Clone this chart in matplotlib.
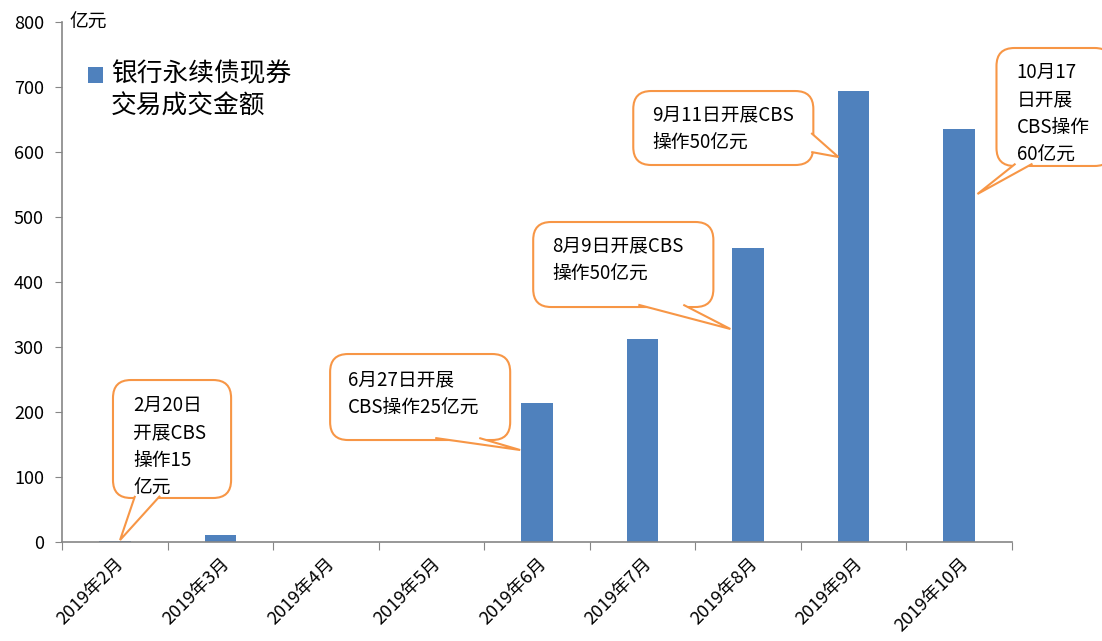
import numpy as np
import matplotlib.pyplot as plt
from matplotlib.patches import Rectangle, FancyBboxPatch, Polygon
from matplotlib.legend_handler import HandlerPatch, update_from_first_child
from matplotlib.container import BarContainer

plt.rcParams['font.family'] = ['Noto Sans CJK SC', 'DejaVu Sans']

# ---------------------------------------------------------------------------
# Данные
# ---------------------------------------------------------------------------
months = ["2019年2月", "2019年3月", "2019年4月", "2019年5月", "2019年6月",
          "2019年7月", "2019年8月", "2019年9月", "2019年10月"]
volume = [2, 11, 0, 0, 214, 312, 452, 694, 635]
series_name = "银行永续债现券\n交易成交金额"

# выноски: текст, левый край текста и центр по y, рамка (x0, y0, x1, y1),
# основание "хвоста" (две точки) и его острие
notes = ["2月20日\n开展CBS\n操作15\n亿元",
         "6月27日开展\nCBS操作25亿元",
         "8月9日开展CBS\n操作50亿元",
         "9月11日开展CBS\n操作50亿元",
         "10月17\n日开展\nCBS操作\n60亿元"]
note_text_pos = [(0.173, 146), (2.211, 228.5), (4.145, 434.6), (5.092, 636.2), (8.543, 658.5)]
note_box = [(-0.017, 67.7, 1.102, 249.2),
            (2.040, 156.9, 3.746, 289.2),
            (3.964, 361.5, 5.671, 492.3),
            (4.912, 580.0, 6.618, 693.8),
            (8.353, 578.5, 9.453, 760.0)]
note_tail = [[(0.192, 71), (0.05, 3), (0.429, 71)],
             [(3.036, 160), (3.841, 141.5), (3.453, 160)],
             [(4.960, 365), (5.832, 327.7), (5.386, 365)],
             [(6.598, 629.2), (6.855, 592.3), (6.598, 600.0)],
             [(8.533, 582), (8.173, 535.4), (8.694, 582)]]

BLUE = "#4F81BD"
ORANGE = "#F79646"
GREY = "#868686"

fig = plt.figure(figsize=(11.02, 6.41), dpi=100)
ax = fig.add_axes([62 / 1102, 1 - 542 / 641, 950 / 1102, 520 / 641])

x = np.arange(len(months))
ax.bar(x, volume, width=0.3, color=BLUE, label=series_name, zorder=2)

ax.set_xlim(-0.5, len(months) - 0.5)
ax.set_ylim(0, 800)
ax.set_yticks(np.arange(0, 801, 100))
ax.tick_params(axis='y', labelsize=13, length=5, color=GREY, direction='out', pad=8)

# деления на границах категорий, подписи по центрам
ax.set_xticks(np.arange(-0.5, len(months), 1.0))
ax.set_xticklabels([])
ax.set_xticks(x, minor=True)
ax.set_xticklabels(months, minor=True, rotation=45, ha='right', va='top',
                   rotation_mode='anchor', fontsize=13)
ax.tick_params(axis='x', which='major', length=6, color=GREY)
ax.tick_params(axis='x', which='minor', length=0, pad=9)

for s in ['top', 'right']:
    ax.spines[s].set_visible(False)
for s in ['left', 'bottom']:
    ax.spines[s].set_color(GREY)
    ax.spines[s].set_linewidth(1.2)

ax.text(0.008, 1.0, "亿元", transform=ax.transAxes, ha='left', va='center', fontsize=13.5)


def shifted_square(legend, orig_handle, xdescent, ydescent, width, height, fontsize):
    # квадрат маркера на уровне первой строки подписи
    return Rectangle((-xdescent, -ydescent + 0.65 * fontsize), width, height)


leg = ax.legend(loc='upper left', bbox_to_anchor=(0.0274, 0.924), frameon=False,
                fontsize=18.5, handlelength=0.6, handleheight=0.6, handletextpad=0.3,
                borderpad=0, borderaxespad=0,
                handler_map={BarContainer: HandlerPatch(patch_func=shifted_square,
                                                        update_func=update_from_first_child)})
for t in leg.get_texts():
    t.set_linespacing(1.3)

# соотношение масштабов осей, чтобы скругления рамок были круглыми
fig.canvas.draw()
bb = ax.get_window_extent()
aspect = (800 / bb.height) / (len(months) / bb.width)

for txt, tp, box, tail in zip(notes, note_text_pos, note_box, note_tail):
    x0, y0, x1, y1 = box
    ax.add_patch(FancyBboxPatch((x0, y0), x1 - x0, y1 - y0,
                                boxstyle="round,pad=0,rounding_size=0.17",
                                mutation_aspect=aspect, fc='white', ec=ORANGE,
                                lw=1.5, zorder=4, clip_on=False))
    ax.add_patch(Polygon(tail, closed=False, fc='white', ec=ORANGE, lw=1.5,
                         zorder=5, clip_on=False, joinstyle='miter'))
    ax.text(tp[0], tp[1], txt, ha='left', va='center', fontsize=13.5,
            linespacing=1.42, zorder=6, clip_on=False)

fig.savefig("out.png", dpi=100)
